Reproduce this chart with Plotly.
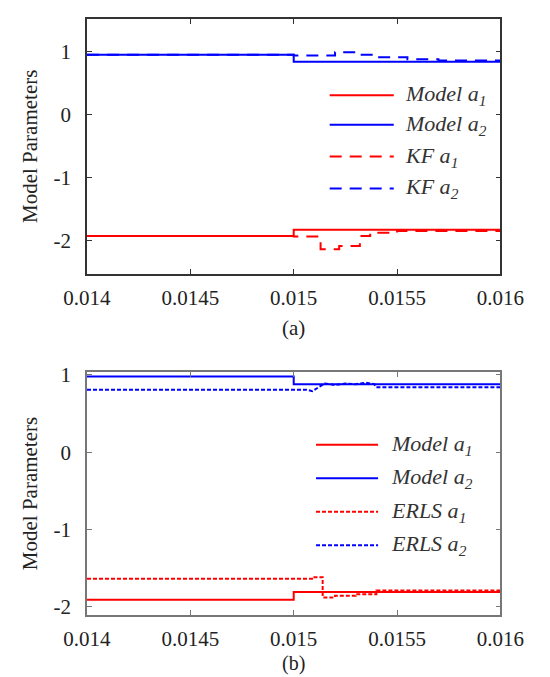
import plotly.graph_objects as go

# ---------------- data (a) ----------------
t_model = [0.014, 0.015, 0.016]
a1_model_a = [-1.92, -1.82, -1.82]
a2_model_a = [0.95, 0.84, 0.84]

t_kf_a1 = [0.014, 0.0150, 0.01513, 0.01522, 0.01532, 0.01537, 0.0155, 0.016]
kf_a1 = [-1.92, -1.93, -2.13, -2.08, -1.92, -1.87, -1.84, -1.84]
t_kf_a2 = [0.014, 0.0150, 0.0152, 0.0153, 0.0154, 0.01555, 0.0157, 0.016]
kf_a2 = [0.95, 0.94, 0.99, 0.95, 0.91, 0.88, 0.86, 0.86]

# ---------------- data (b) ----------------
a1_model_b = [-1.91, -1.81, -1.81]
a2_model_b = [0.98, 0.88, 0.88]

t_erls_a1 = [0.014, 0.0151, 0.01514, 0.0152, 0.0153, 0.0154, 0.016]
erls_a1 = [-1.64, -1.62, -1.88, -1.86, -1.84, -1.79, -1.79]
t_erls_a2 = [0.014, 0.01506, 0.01509, 0.01512, 0.01515, 0.0152, 0.01525,
             0.0153, 0.01535, 0.01539, 0.0154, 0.016]
erls_a2 = [0.81, 0.81, 0.79, 0.84, 0.89, 0.87, 0.89, 0.88, 0.90, 0.88, 0.84, 0.84]

x_ticks = [0.014, 0.0145, 0.015, 0.0155, 0.016]
x_ticktext = ["0.014", "0.0145", "0.015", "0.0155", "0.016"]
y_ticks = [-2, -1, 0, 1]
y_ticktext = ["-2", "-1", "0", "1"]

RED = "#ff0000"
BLUE = "#0000ff"
FONT = "Times New Roman"
FONT_L = "Times"
FONT_T = "Liberation Serif"

fig = go.Figure()

# (a)
fig.add_trace(go.Scatter(x=t_model, y=a1_model_a, mode="lines", line=dict(color=RED, width=2, shape="hv"),
                         xaxis="x", yaxis="y"))
fig.add_trace(go.Scatter(x=t_model, y=a2_model_a, mode="lines", line=dict(color=BLUE, width=2, shape="hv"),
                         xaxis="x", yaxis="y"))
fig.add_trace(go.Scatter(x=t_kf_a1, y=kf_a1, mode="lines",
                         line=dict(color=RED, width=2, shape="hv", dash="12px,8px"), xaxis="x", yaxis="y"))
fig.add_trace(go.Scatter(x=t_kf_a2, y=kf_a2, mode="lines",
                         line=dict(color=BLUE, width=2, shape="hv", dash="12px,8px"), xaxis="x", yaxis="y"))

# (b)
fig.add_trace(go.Scatter(x=t_model, y=a1_model_b, mode="lines", line=dict(color=RED, width=2, shape="hv"),
                         xaxis="x2", yaxis="y2"))
fig.add_trace(go.Scatter(x=t_model, y=a2_model_b, mode="lines", line=dict(color=BLUE, width=2, shape="hv"),
                         xaxis="x2", yaxis="y2"))
fig.add_trace(go.Scatter(x=t_erls_a1, y=erls_a1, mode="lines",
                         line=dict(color=RED, width=2, shape="hv", dash="4px,2px"), xaxis="x2", yaxis="y2"))
fig.add_trace(go.Scatter(x=t_erls_a2, y=erls_a2, mode="lines",
                         line=dict(color=BLUE, width=2, dash="4px,2px"), xaxis="x2", yaxis="y2"))

W, H = 550, 677
xl, xr = 69 / W, 522 / W
ya = [1 - 270 / H, 1 - 10 / H]
yb = [1 - 618 / H, 1 - 370 / H]

def xax(domain, anchor, color):
    return dict(domain=domain, anchor=anchor, range=[0.014, 0.016], tickvals=x_ticks, ticktext=x_ticktext,
                ticks="inside", ticklen=5, tickcolor=color, showline=True, linecolor=color, linewidth=1.5,
                mirror="ticks", showgrid=False, zeroline=False, ticklabelstandoff=4,
                tickfont=dict(family=FONT, size=21, color="#222"))

def yax(domain, anchor, rng, color):
    return dict(domain=domain, anchor=anchor, range=rng, tickvals=y_ticks, ticktext=y_ticktext,
                ticks="inside", ticklen=5, tickcolor=color, showline=True, linecolor=color, linewidth=1.5,
                mirror="ticks", showgrid=False, zeroline=False, ticklabelstandoff=10,
                tickfont=dict(family=FONT, size=21, color="#222"),
                title=dict(text="Model Parameters", font=dict(family=FONT_T, size=21, color="#222"), standoff=10))

fig.update_layout(
    width=W, height=H, margin=dict(l=0, r=0, t=0, b=0),
    paper_bgcolor="white", plot_bgcolor="white", showlegend=False,
    xaxis=xax([xl, xr], "y", "#333"),
    yaxis=yax(ya, "x", [-2.52, 1.52], "#333"),
    xaxis2=xax([xl, xr], "y2", "#777"),
    yaxis2=yax(yb, "x2", [-2.11, 1.04], "#777"),
)

# manual legends
def legend(xref, yref, x0, x1, xt, ys, items):
    for y, (name, color, dash) in zip(ys, items):
        fig.add_shape(type="line", xref=xref, yref=yref, x0=x0, x1=x1, y0=y, y1=y,
                      line=dict(color=color, width=2, dash=dash))
        fig.add_annotation(xref=xref, yref=yref, x=xt, y=y, text=name, showarrow=False,
                           xanchor="left", yanchor="middle",
                           font=dict(family=FONT_L, size=22, color="#333"))

legend("x domain", "y domain", 0.587, 0.742, 0.765, [0.70, 0.585, 0.46, 0.335],
       [("<i>Model a</i><sub><i>1</i></sub>", RED, "solid"),
        ("<i>Model a</i><sub><i>2</i></sub>", BLUE, "solid"),
        ("<i>KF a</i><sub><i>1</i></sub>", RED, "12px,8px"),
        ("<i>KF a</i><sub><i>2</i></sub>", BLUE, "12px,8px")])
legend("x2 domain", "y2 domain", 0.554, 0.704, 0.73, [0.70, 0.563, 0.425, 0.287],
       [("<i>Model a</i><sub><i>1</i></sub>", RED, "solid"),
        ("<i>Model a</i><sub><i>2</i></sub>", BLUE, "solid"),
        ("<i>ERLS a</i><sub><i>1</i></sub>", RED, "4px,2px"),
        ("<i>ERLS a</i><sub><i>2</i></sub>", BLUE, "4px,2px")])

fig.add_annotation(xref="paper", yref="paper", x=(xl + xr) / 2, y=1 - 325 / H, text="(a)", showarrow=False,
                   font=dict(family=FONT, size=21, color="#222"), yanchor="middle")
fig.add_annotation(xref="paper", yref="paper", x=(xl + xr) / 2, y=1 - 667 / H, text="(b)", showarrow=False,
                   font=dict(family=FONT, size=20, color="#222"), yanchor="middle")

fig.write_html("out.html")
